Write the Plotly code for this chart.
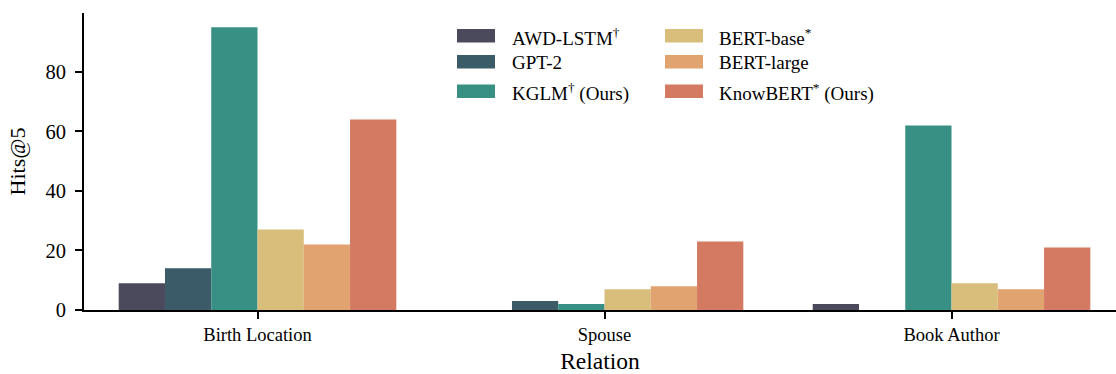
import plotly.graph_objects as go

# Hits@5 per relation for each model
relations = ["Birth Location", "Spouse", "Book Author"]
models = ["AWD-LSTM", "GPT-2", "KGLM", "BERT-base", "BERT-large", "KnowBERT"]
legend_labels = ["AWD-LSTM<sup>†</sup>", "GPT-2", "KGLM<sup>†</sup> (Ours)",
                 "BERT-base<sup>*</sup>", "BERT-large", "KnowBERT<sup>*</sup> (Ours)"]
awd_lstm = [9, 0, 2]
gpt2 = [14, 3, 0]
kglm = [95, 2, 62]
bert_base = [27, 7, 9]
bert_large = [22, 8, 7]
knowbert = [64, 23, 21]
y_ticks = [0, 20, 40, 60, 80]

series = [awd_lstm, gpt2, kglm, bert_base, bert_large, knowbert]
colors = ["#4b4a5c", "#3b5b69", "#388f83", "#d8bd7b", "#e1a471", "#d47a63"]

W, H = 1116, 374
ML, MR, MT, MB = 84, 0, 13, 64
FONT = "Liberation Serif"

fig = go.Figure()
for name, vals, col in zip(models, series, colors):
    fig.add_trace(go.Bar(x=list(range(len(relations))), y=vals, name=name,
                         marker=dict(color=col, line=dict(width=0)),
                         showlegend=False))

# legend drawn as two columns of wide swatches
pw = W - ML - MR
ph = H - MT - MB


def px_x(x):
    return (x - ML) / pw


def px_y(y):
    return 1 - (y - MT) / ph


row_centers = [35.7, 61.7, 91.3]
col_swatch_x = [457, 665]
col_text_x = [510, 717]
shapes = []
annotations = []
for i, (lab, col) in enumerate(zip(legend_labels, colors)):
    c, r = divmod(i, 3)
    yc = row_centers[r]
    shapes.append(dict(type="rect", xref="paper", yref="paper",
                       x0=px_x(col_swatch_x[c]), x1=px_x(col_swatch_x[c] + 38),
                       y0=px_y(yc + 6.8), y1=px_y(yc - 6.8),
                       fillcolor=col, line=dict(width=0)))
    annotations.append(dict(text=lab, xref="paper", yref="paper",
                            x=px_x(col_text_x[c]), y=px_y(yc + 1),
                            xanchor="left", yanchor="middle", showarrow=False,
                            font=dict(family=FONT, size=19, color="black")))

fig.update_layout(
    width=W, height=H,
    margin=dict(l=ML, r=MR, t=MT, b=MB),
    paper_bgcolor="white", plot_bgcolor="white",
    barmode="group", bargap=0.2, bargroupgap=0,
    font=dict(family=FONT, color="black"),
    shapes=shapes, annotations=annotations,
    xaxis=dict(range=[-0.5, 2.474], tickvals=list(range(len(relations))),
               ticktext=relations, ticks="outside", ticklen=7, tickwidth=1.5,
               tickcolor="black", showline=True, linecolor="black", linewidth=2,
               showgrid=False, zeroline=False,
               tickfont=dict(family=FONT, size=18.5),
               title=dict(text="Relation", font=dict(family=FONT, size=23.5), standoff=10)),
    yaxis=dict(range=[0, 99.75], tickvals=y_ticks, ticks="outside", ticklen=7,
               tickwidth=1.5, tickcolor="black", showline=True, linecolor="black",
               linewidth=2, showgrid=False, zeroline=False, ticklabelstandoff=5,
               tickfont=dict(family=FONT, size=20.5),
               title=dict(text="Hits@5", font=dict(family=FONT, size=22), standoff=14)),
)

fig.write_html("out.html")
